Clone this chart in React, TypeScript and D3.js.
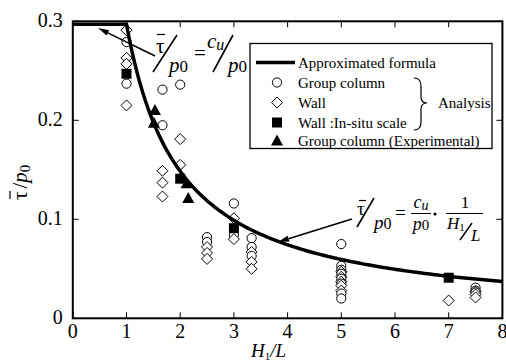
import React from "react";
import * as d3 from "d3";

const xTicks = [0, 1, 2, 3, 4, 5, 6, 7, 8];
const yTicks = [0, 0.1, 0.2, 0.3];
const yTickLabels = ["0", "0.1", "0.2", "0.3"];

// Analysis: group column (hollow circles)
const circleX = [1, 1, 1.67, 1.67, 2, 2.5, 2.5, 3, 3, 3.33, 3.33, 3.33, 5, 5, 5, 5, 5, 5, 5, 5, 7.5, 7.5, 7.5];
const circleY = [0.279, 0.237, 0.231, 0.195, 0.236, 0.082, 0.077, 0.116, 0.084, 0.081, 0.072, 0.063, 0.075, 0.053, 0.049, 0.045, 0.04, 0.035, 0.025, 0.02, 0.031, 0.028, 0.026];
// Analysis: wall (hollow diamonds)
const diamondX = [1, 1, 1, 1, 1.67, 1.67, 1.67, 2, 2, 2.5, 2.5, 2.5, 3, 3, 3.33, 3.33, 3.33, 5, 5, 5, 5, 5, 7, 7.5, 7.5, 7.5];
const diamondY = [0.291, 0.263, 0.257, 0.215, 0.149, 0.137, 0.123, 0.181, 0.155, 0.072, 0.066, 0.06, 0.101, 0.08, 0.067, 0.057, 0.05, 0.047, 0.042, 0.037, 0.033, 0.028, 0.018, 0.027, 0.024, 0.021];
// Wall: in-situ scale (filled squares)
const squareX = [1, 2, 3, 7];
const squareY = [0.247, 0.141, 0.091, 0.041];
// Group column experimental (filled triangles)
const triX = [1.53, 1.51, 2.12, 2.15];
const triY = [0.21, 0.197, 0.136, 0.121];

// Approximated formula: tau/p0 = cu/p0 (plateau) and cu/p0 / (H/L)
const cuOverP0 = 0.297;
const curveX = d3.range(1, 8.001, 0.05);

const serif = "Liberation Serif, Tinos, Times New Roman, DejaVu Serif, serif";
const F = { fontFamily: serif };

export default function App() {
  const x = d3.scaleLinear().domain([0, 8]).range([72.8, 502.4]);
  const y = d3.scaleLinear().domain([0, 0.3]).range([318.3, 21.3]);

  const linePts: [number, number][] = [[0, cuOverP0], ...curveX.map((v) => [v, cuOverP0 / v] as [number, number])];
  const line = d3.line<[number, number]>().x((d) => x(d[0])).y((d) => y(d[1]));

  const hollow = [
    ...circleX.map((v, i) => ({ x: v, y: circleY[i], t: "c" })),
    ...diamondX.map((v, i) => ({ x: v, y: diamondY[i], t: "d" })),
  ].sort((a, b) => b.y - a.y);

  const x0 = x(0), x1 = x(8), y0 = y(0), y1 = y(0.3);

  const arrow = (fx: number, fy: number, tx: number, ty: number) => {
    const ang = Math.atan2(ty - fy, tx - fx);
    const L = 11, W = 3;
    const bx = tx - L * Math.cos(ang), by = ty - L * Math.sin(ang);
    const px = -Math.sin(ang) * W, py = Math.cos(ang) * W;
    return (
      <g>
        <line x1={fx} y1={fy} x2={bx} y2={by} stroke="#000" strokeWidth={1.6} />
        <path d={`M${tx},${ty}L${bx + px},${by + py}L${bx - px},${by - py}Z`} fill="#000" />
      </g>
    );
  };

  const legendRows = [62.5, 82.5, 102.5, 122.5, 141];
  const lx = 277, ltx = 298;

  return (
    <svg width={506} height={363} style={{ position: "absolute", left: 0, top: 0, background: "#fff", fontFamily: serif }}>
      <rect width={506} height={363} fill="#fff" />
      {/* ticks inward */}
      {xTicks.map((t) => (
        <g key={"xt" + t}>
          <line x1={x(t)} x2={x(t)} y1={y0} y2={y0 - 6} stroke="#000" strokeWidth={1} />
          <line x1={x(t)} x2={x(t)} y1={y1} y2={y1 + 6} stroke="#000" strokeWidth={1} />
          <text style={F} x={x(t)} y={y0 + 20} fontSize={20} textAnchor="middle">{t}</text>
        </g>
      ))}
      {yTicks.map((t, i) => (
        <g key={"yt" + t}>
          <line x1={x0} x2={x0 + 6} y1={y(t)} y2={y(t)} stroke="#000" strokeWidth={1} />
          <line x1={x1} x2={x1 - 6} y1={y(t)} y2={y(t)} stroke="#000" strokeWidth={1} />
          <text style={F} x={x0 - 10} y={y(t) + 6} fontSize={20} textAnchor="end">{yTickLabels[i]}</text>
        </g>
      ))}
      {/* frame */}
      <rect x={x0} y={y1} width={x1 - x0} height={y0 - y1} fill="none" stroke="#000" strokeWidth={2} />

      {/* hollow markers */}
      {hollow.map((p, i) =>
        p.t === "c" ? (
          <circle key={"h" + i} cx={x(p.x)} cy={y(p.y)} r={4.6} fill="#fff" stroke="#000" strokeWidth={1} />
        ) : (
          <path key={"h" + i} d={`M${x(p.x)},${y(p.y) - 5.5}l5.5,5.5l-5.5,5.5l-5.5,-5.5Z`} fill="#fff" stroke="#000" strokeWidth={1} />
        )
      )}

      {/* formula curve */}
      <path d={line(linePts) || ""} fill="none" stroke="#000" strokeWidth={3.5} />

      {squareX.map((v, i) => (
        <rect key={"s" + i} x={x(v) - 5} y={y(squareY[i]) - 5} width={10} height={10} fill="#000" />
      ))}
      {triX.map((v, i) => (
        <path key={"t" + i} d={`M${x(v)},${y(triY[i]) - 6.5}l6,11l-12,0Z`} fill="#000" />
      ))}

      {/* annotation 1 */}
      {arrow(155, 56, 98, 28)}
      <line x1={157} x2={165} y1={34.5} y2={34.5} stroke="#000" strokeWidth={1.2} />
      <text style={F} x={156} y={53} fontSize={21}>τ</text>
      <line x1={153} y1={72} x2={177} y2={35} stroke="#000" strokeWidth={1.6} />
      <text style={F} x={169} y={72} fontSize={21} fontStyle="italic">p<tspan fontStyle="normal" fontSize={17}>0</tspan></text>
      <text style={F} x={194} y={60} fontSize={21}>=</text>
      <text style={F} x={207} y={48} fontSize={21} fontStyle="italic">c<tspan fontSize={16} dy={2}>u</tspan></text>
      <line x1={213} y1={72} x2={233} y2={35} stroke="#000" strokeWidth={1.6} />
      <text style={F} x={228} y={72} fontSize={21} fontStyle="italic">p<tspan fontStyle="normal" fontSize={17}>0</tspan></text>

      {/* annotation 2 */}
      {arrow(352, 219, 278, 242)}
      <line x1={359} x2={366} y1={200.5} y2={200.5} stroke="#000" strokeWidth={1.2} />
      <text style={F} x={357} y={215} fontSize={19}>τ</text>
      <line x1={357} y1={227} x2={374} y2={198} stroke="#000" strokeWidth={1.6} />
      <text style={F} x={374} y={229} fontSize={19} fontStyle="italic">p<tspan fontStyle="normal" fontSize={16}>0</tspan></text>
      <text style={F} x={395} y={219} fontSize={19}>=</text>
      <text style={F} x={421} y={208} fontSize={18} fontStyle="italic" textAnchor="middle">c<tspan fontSize={14} dy={2}>u</tspan></text>
      <line x1={411} x2={431} y1={213.5} y2={213.5} stroke="#000" strokeWidth={1} />
      <text style={F} x={421} y={230} fontSize={18} fontStyle="italic" textAnchor="middle">p<tspan fontStyle="normal" fontSize={15}>0</tspan></text>
      <circle cx={435} cy={214} r={1.6} fill="#000" />
      <text style={F} x={465} y={208} fontSize={17} textAnchor="middle">1</text>
      <line x1={446} x2={483} y1={213.5} y2={213.5} stroke="#000" strokeWidth={1} />
      <text style={F} x={447} y={229} fontSize={17} fontStyle="italic">H<tspan fontStyle="normal" fontSize={11} dy={2}>1</tspan></text>
      <line x1={460} y1={240} x2={472} y2={223} stroke="#000" strokeWidth={1.4} />
      <text style={F} x={471} y={241} fontSize={17} fontStyle="italic">L</text>

      {/* legend */}
      <rect x={250} y={43.5} width={242} height={105} fill="#fff" stroke="#000" strokeWidth={1.3} />
      <line x1={256} x2={295} y1={legendRows[0]} y2={legendRows[0]} stroke="#000" strokeWidth={3.5} />
      <circle cx={lx} cy={legendRows[1]} r={4.6} fill="#fff" stroke="#000" strokeWidth={1} />
      <path d={`M${lx},${legendRows[2] - 5.5}l5.5,5.5l-5.5,5.5l-5.5,-5.5Z`} fill="#fff" stroke="#000" strokeWidth={1} />
      <rect x={lx - 5} y={legendRows[3] - 5} width={10} height={10} fill="#000" />
      <path d={`M${lx},${legendRows[4] - 6.5}l6,11l-12,0Z`} fill="#000" />
      {["Approximated formula", "Group column", "Wall", "Wall :In-situ scale", "Group column (Experimental)"].map((s, i) => (
        <text style={F} key={s} x={ltx} y={legendRows[i] + 5} fontSize={15}>{s}</text>
      ))}
      <path d="M414,78 Q421,78 421,86 L421,97 Q421,103 427,103 Q421,103 421,109 L421,122 Q421,130 414,130" fill="none" stroke="#000" strokeWidth={1.2} />
      <text style={F} x={438} y={108} fontSize={15}>Analysis</text>

      {/* axis labels */}
      <text style={F} x={251} y={356.5} fontSize={19} fontStyle="italic">H<tspan fontStyle="normal" fontSize={11} dy={3}>1</tspan><tspan dy={-3}>/L</tspan></text>
      <g transform="translate(27,172) rotate(-90)">
        <line x1={-27} x2={-19} y1={-17} y2={-17} stroke="#000" strokeWidth={1.2} />
        <text style={F} x={-28} y={0} fontSize={21}>τ<tspan dx={3}>/</tspan><tspan fontStyle="italic">p</tspan><tspan fontSize={15} dy={3}>0</tspan></text>
      </g>
    </svg>
  );
}
